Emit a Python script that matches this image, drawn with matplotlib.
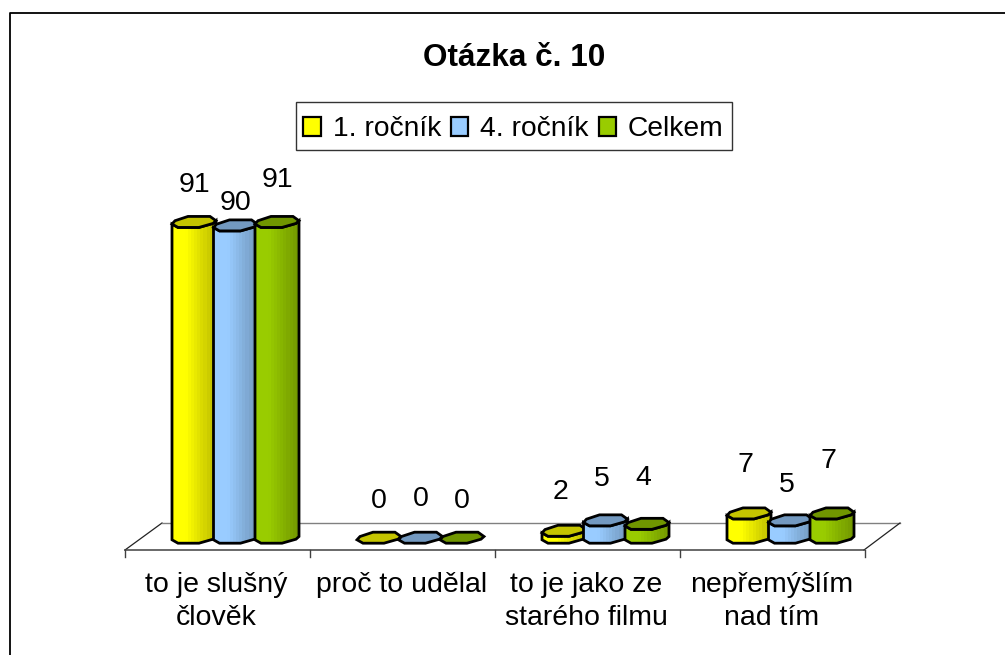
import numpy as np
from matplotlib import pyplot as plt
from matplotlib.colors import LinearSegmentedColormap
from matplotlib.patches import Patch, Polygon, Rectangle

categories = ["to je slušný\nčlověk", "proč to udělal", "to je jako ze\nstarého filmu", "nepřemýšlím\nnad tím"]
series_names = ["1. ročník", "4. ročník", "Celkem"]
first_year = [91, 0, 2, 7]
fourth_year = [90, 0, 5, 5]
total = [91, 0, 4, 7]

face_colors = ["#FFFF00", "#99CCFF", "#99CC00"]
side_colors = ["#BFBF00", "#7399BF", "#739900"]
top_colors = ["#C4C400", "#7399C0", "#709600"]

W, H = 1005, 655
PX_PER_CAT = 185.0
PX_PER_VALUE = 3.47
LEFT_PX = 125
BASE_PX = 537.5

# outline of a column end, in pixels around its centre
CAP_DX = np.array([-22, -19, -6, 16, 22, 19, 5, -16])
CAP_DY = np.array([-2.3, 1, 5.3, 5.3, 1, -1.7, -5.7, -5.7])
# label offset above the column top and sideways per category, in pixels
LABEL_LIFT = [[37, 37, 39, 48], [22, 38, 41, 35], [42, 36, 46, 52]]
LABEL_SHIFT = [0, 0, -4, -4]


def to_x(px):
    return (px - LEFT_PX) / PX_PER_CAT


def to_y(py):
    return (BASE_PX - py) / PX_PER_VALUE


def draw_column(ax, xc, value, idx):
    cx = xc + CAP_DX / PX_PER_CAT
    top_y = value + CAP_DY / PX_PER_VALUE
    bottom_y = CAP_DY / PX_PER_VALUE
    z = 3 + idx * 0.1
    if value > 0:
        # body: left edge up, over the front of the top, down the right, back along the bottom
        body = np.array(
            [(cx[0], bottom_y[0]), (cx[0], top_y[0]), (cx[7], top_y[7]), (cx[6], top_y[6]),
             (cx[5], top_y[5]), (cx[4], top_y[4]), (cx[4], bottom_y[4]), (cx[5], bottom_y[5]),
             (cx[6], bottom_y[6]), (cx[7], bottom_y[7])]
        )
        patch = Polygon(body, closed=True, facecolor="none", edgecolor="black", lw=2, zorder=z + 0.02)
        ax.add_patch(patch)
        cmap = LinearSegmentedColormap.from_list(
            "c", [(0, face_colors[idx]), (0.3, face_colors[idx]), (1, side_colors[idx])]
        )
        bands = np.linspace(0, 1, 14)[None, :]
        img = ax.imshow(
            bands, cmap=cmap, aspect="auto", interpolation="nearest",
            extent=(cx[0], cx[4], bottom_y.min(), top_y.max()), zorder=z,
        )
        fill = Polygon(body, closed=True, transform=ax.transData)
        img.set_clip_path(fill)
    cap = Polygon(np.column_stack([cx, top_y]), closed=True, facecolor=top_colors[idx],
                  edgecolor="black", lw=2, zorder=z + 0.03)
    ax.add_patch(cap)


def main():
    plt.rcParams["font.family"] = ["Liberation Sans", "DejaVu Sans"]
    fig = plt.figure(figsize=(W / 100, H / 100), dpi=100)
    ax = fig.add_axes([0, 0, 1, 1])
    ax.axis("off")

    # chart frame, only left and top are inside the picture
    frame_x = to_x(np.array([10, 10, 1010]))
    frame_y = to_y(np.array([660, 12.5, 12.5]))
    ax.plot(frame_x, frame_y, color="black", lw=1.3, zorder=1)

    # floor
    floor_x = to_x(np.array([125, 162, 900, 864]))
    floor_y = to_y(np.array([550, 523, 523, 550]))
    ax.plot(floor_x[:2], floor_y[:2], color="#222222", lw=0.9, zorder=2)
    ax.plot(floor_x[1:3], floor_y[1:3], color="#808080", lw=1, zorder=2)
    ax.plot(floor_x[2:], floor_y[2:], color="#222222", lw=0.9, zorder=2)
    ax.plot(floor_x[[0, 3]], floor_y[[0, 3]], color="#404040", lw=1.1, zorder=2)
    for i in range(len(categories) + 1):
        ax.plot([i, i], to_y(np.array([550, 557])), color="#404040", lw=1, zorder=2)

    for idx, values in enumerate([first_year, fourth_year, total]):
        for cat, value in enumerate(values):
            xc = cat + 0.5 + (idx - 1) * 41.5 / PX_PER_CAT + 18 / PX_PER_CAT
            draw_column(ax, xc, value, idx)
            ax.text(xc + LABEL_SHIFT[cat] / PX_PER_CAT, value + LABEL_LIFT[idx][cat] / PX_PER_VALUE,
                    str(value), ha="center", va="center", fontsize=20.5, color="black", zorder=6)

    for cat, label in enumerate(categories):
        ax.text(cat + 0.5 - 1 / PX_PER_CAT, to_y(572), label, ha="center", va="top", fontsize=20.5,
                linespacing=1.37, color="black", zorder=6)

    ax.text(to_x(514), to_y(58.5), "Otázka č. 10", ha="center", va="center",
            fontsize=22.7, fontweight="bold", color="black", zorder=6)

    # legend box drawn on its own so the entries can sit centred in it
    box = Rectangle((to_x(296), to_y(150)), 436 / PX_PER_CAT, 48 / PX_PER_VALUE,
                    facecolor="white", edgecolor="#333333", lw=1, zorder=5)
    ax.add_patch(box)
    handles = [Patch(facecolor=c, edgecolor="black", lw=1.6) for c in face_colors]
    leg = ax.legend(
        handles, series_names, loc="center", bbox_to_anchor=(513.5 / W, 1 - 129.5 / H),
        bbox_transform=fig.transFigure, ncol=3, fontsize=20.3, frameon=False,
        handlelength=0.62, handleheight=0.62,
        handletextpad=0.42, columnspacing=0.35, borderpad=0, borderaxespad=0,
    )
    leg.set_zorder(7)

    ax.set_xlim(to_x(0), to_x(W))
    ax.set_ylim(to_y(H), to_y(0))
    fig.savefig("out.png", dpi=100, facecolor="white")


if __name__ == "__main__":
    main()
